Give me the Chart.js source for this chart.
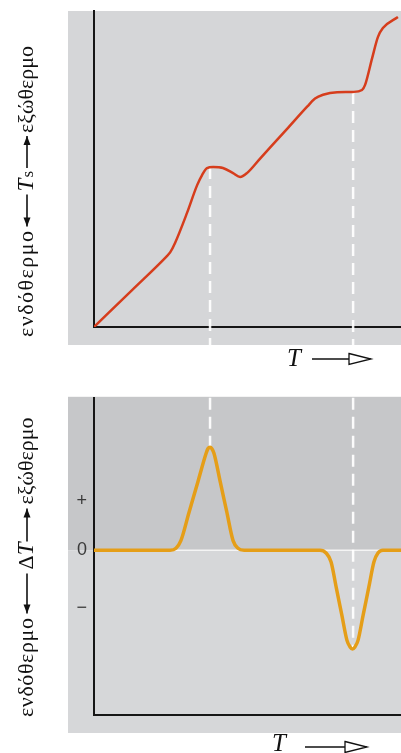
<!DOCTYPE html>
<html>
<head>
<meta charset="utf-8">
<script src="https://cdn.jsdelivr.net/npm/chart.js@4.4.1/dist/chart.umd.min.js"></script>
<style>
  html, body { margin: 0; padding: 0; background: #fff; }
  #wrap { position: relative; width: 401px; height: 753px; }
  canvas { position: absolute; left: 0; }
</style>
</head>
<body>
<div id="wrap">
  <canvas id="tsChart" width="401" height="380" style="top:0"></canvas>
  <canvas id="dtChart" width="401" height="373" style="top:380px"></canvas>
</div>
<script>
// temperature along the T axis (0..100, arbitrary units)
const tsTemps = [0, 12.4, 23.6, 24.8, 26.4, 30.3, 33.6, 35.2, 36.8, 38.8, 42.0, 45.3, 47.6, 49.8, 54.1, 62.9, 69.5,
                 72.0, 74.6, 79.2, 84.4, 87.3, 88.3, 90.6, 92.5, 94.1, 99.0];
// sample temperature Ts
const tsValues = [0, 11.7, 22.3, 23.6, 26.6, 36.1, 44.9, 48.1, 50.3, 50.6, 50.3, 48.7, 47.5, 48.7, 53.3, 62.7, 69.8,
                  72.3, 73.5, 74.3, 74.4, 75.0, 76.6, 85.1, 91.8, 94.6, 98.1];

const dtTemps = [0, 24.8, 26.7, 28.3, 30.9, 33.9, 36.5, 37.1, 37.8, 38.4, 39.1, 41.2, 43.2, 45.3, 46.9, 48.9,
                 73.6, 75.6, 77.2, 79.0, 80.7, 82.4, 83.4, 84.2, 85.0, 86.0, 87.7, 89.5, 91.2, 92.5, 94.1, 100];
// temperature difference ΔT
const dtValues = [0, 0, 0.12, 0.58, 2.26, 4.19, 5.87, 6.16, 6.25, 6.16, 5.87, 4.08, 2.37, 0.58, 0.12, 0,
                  0, -0.17, -0.70, -2.35, -3.91, -5.47, -5.87, -5.99, -5.87, -5.47, -3.91, -2.26, -0.70, -0.17, 0, 0];

// transitions (dashed lines)
const transitionTemps = [37.8, 84.4];
const tsAtTransition = [50.6, 74.4];
const dtAtTransition = [6.25, -5.99];

const dtTickValues = [-3.5, 0, 3];
const dtTickLabels = ['−', '0', '+'];

const SERIF = '"Liberation Serif", "DejaVu Serif", serif';

const toPts = (xs, ys) => xs.map((x, i) => ({ x: x, y: ys[i] }));

const panelPlugin = {
  id: 'panel',
  beforeDraw(chart, args, opts) {
    const { ctx, chartArea: a } = chart;
    const left = a.left - 26, right = chart.width;
    const top = a.top - (opts.topExtra || 0), bottom = a.bottom + 18;
    ctx.save();
    if (opts.split) {
      const y0 = chart.scales.y.getPixelForValue(0);
      ctx.fillStyle = opts.upper;
      ctx.fillRect(left, top, right - left, y0 - top);
      ctx.fillStyle = opts.lower;
      ctx.fillRect(left, y0, right - left, bottom - y0);
      ctx.strokeStyle = '#f4f4f4';
      ctx.lineWidth = 1.5;
      ctx.beginPath();
      ctx.moveTo(a.left, y0);
      ctx.lineTo(right, y0);
      ctx.stroke();
    } else {
      ctx.fillStyle = opts.color;
      ctx.fillRect(left, top, right - left, bottom - top);
    }
    ctx.restore();
  }
};

function arrowHead(ctx, x, y, dir) {
  ctx.beginPath();
  ctx.moveTo(x, y);
  ctx.lineTo(x - dir * 9, y - 3.5);
  ctx.lineTo(x - dir * 9, y + 3.5);
  ctx.closePath();
  ctx.fill();
}

const titlesPlugin = {
  id: 'titles',
  afterDraw(chart, args, opts) {
    const { ctx, chartArea: a } = chart;
    ctx.save();
    ctx.fillStyle = '#111';
    ctx.strokeStyle = '#111';
    ctx.textBaseline = 'alphabetic';

    // vertical label, reading bottom to top
    ctx.save();
    ctx.translate(opts.side.x, opts.side.startY);
    ctx.rotate(-Math.PI / 2);
    let x = 0;
    opts.side.parts.forEach(p => {
      if (p.arrow) {
        ctx.lineWidth = 1.6;
        ctx.beginPath();
        ctx.moveTo(x, -6);
        ctx.lineTo(x + p.len, -6);
        ctx.stroke();
        if (p.arrow === 'left') arrowHead(ctx, x, -6, -1);
        else arrowHead(ctx, x + p.len, -6, 1);
        x += p.len;
      } else {
        ctx.font = p.font;
        ctx.letterSpacing = (p.spacing || 0) + 'px';
        ctx.fillText(p.text, x, 0);
        x += ctx.measureText(p.text).width;
        ctx.letterSpacing = '0px';
      }
      x += p.gap || 0;
    });
    ctx.restore();

    // T ——▷ under the x axis
    const b = opts.bottom;
    const tx = a.left + b.dx, ty = a.bottom + b.dy;
    ctx.font = 'italic 25px ' + SERIF;
    ctx.fillText('T', tx, ty);
    const ay = ty - b.lift;
    ctx.lineWidth = 1.6;
    ctx.beginPath();
    ctx.moveTo(tx + b.lineStart, ay);
    ctx.lineTo(tx + b.lineEnd, ay);
    ctx.stroke();
    ctx.lineWidth = 1.3;
    ctx.fillStyle = '#fff';
    ctx.beginPath();
    ctx.moveTo(tx + b.lineEnd, ay - 5.5);
    ctx.lineTo(tx + b.triEnd, ay);
    ctx.lineTo(tx + b.lineEnd, ay + 5.5);
    ctx.closePath();
    ctx.fill();
    ctx.stroke();
    ctx.restore();
  }
};

const dashStyle = {
  borderColor: 'rgba(255,255,255,0.92)',
  borderWidth: 2.5,
  borderDash: [12, 7],
  pointRadius: 0,
  fill: false,
  clip: false,
  order: 1
};

const hiddenX = {
  type: 'linear', min: 0, max: 100,
  grid: { display: false },
  ticks: { display: false },
  border: { display: true, color: '#161616', width: 2 },
  afterFit: s => { s.height = 0; }
};

// ---- Ts vs T ----
new Chart(document.getElementById('tsChart'), {
  type: 'line',
  data: {
    datasets: [
      {
        data: toPts(tsTemps, tsValues),
        borderColor: '#d63d1c',
        borderWidth: 2.5,
        pointRadius: 0,
        cubicInterpolationMode: 'monotone',
        fill: false,
        order: 0
      },
      Object.assign({ data: [{ x: transitionTemps[0], y: tsAtTransition[0] }, { x: transitionTemps[0], y: -5.7 }] }, dashStyle),
      Object.assign({ data: [{ x: transitionTemps[1], y: tsAtTransition[1] }, { x: transitionTemps[1], y: -5.7 }] }, dashStyle)
    ]
  },
  options: {
    responsive: false,
    animation: false,
    layout: { padding: { left: 94, top: 11, right: 0, bottom: 53 } },
    scales: {
      x: hiddenX,
      y: {
        min: 0, max: 100,
        grid: { display: false },
        ticks: { display: false },
        border: { display: true, color: '#161616', width: 2 },
        afterFit: s => { s.width = 0; }
      }
    },
    plugins: {
      legend: { display: false },
      tooltip: { enabled: false },
      panel: { color: '#d5d6d8' },
      titles: {
        side: {
          x: 33, startY: 337,
          parts: [
            { text: 'ενδόθερμο', font: '22px ' + SERIF, spacing: 1.5, gap: 3 },
            { arrow: 'left', len: 32, gap: 3 },
            { text: 'T', font: 'italic 23px ' + SERIF, gap: 1 },
            { text: 's', font: '17px ' + SERIF, gap: 3 },
            { arrow: 'right', len: 32, gap: 3 },
            { text: 'εξώθερμο', font: '22px ' + SERIF }
          ]
        },
        bottom: { dx: 193, dy: 39, lift: 7, lineStart: 25, lineEnd: 62, triEnd: 84 }
      }
    }
  },
  plugins: [panelPlugin, titlesPlugin]
});

// ---- ΔT vs T ----
new Chart(document.getElementById('dtChart'), {
  type: 'line',
  data: {
    datasets: [
      {
        data: toPts(dtTemps, dtValues),
        borderColor: '#e59e18',
        borderWidth: 3.5,
        pointRadius: 0,
        cubicInterpolationMode: 'monotone',
        fill: false,
        order: 0
      },
      Object.assign({ data: [{ x: transitionTemps[0], y: 9.25 }, { x: transitionTemps[0], y: dtAtTransition[0] }] }, dashStyle),
      Object.assign({ data: [{ x: transitionTemps[1], y: 9.25 }, { x: transitionTemps[1], y: dtAtTransition[1] }] }, dashStyle)
    ]
  },
  options: {
    responsive: false,
    animation: false,
    layout: { padding: { left: 76, top: 4, right: 0, bottom: 38 } },
    scales: {
      x: hiddenX,
      y: {
        min: -10, max: 9.25,
        afterBuildTicks: s => { s.ticks = dtTickValues.map(v => ({ value: v })); },
        grid: { display: false, drawTicks: false },
        ticks: {
          padding: 7,
          color: '#3a3a3a',
          font: { family: '"Liberation Sans", Arial, sans-serif', size: 18 },
          callback: v => dtTickLabels[dtTickValues.indexOf(v)]
        },
        border: { display: true, color: '#161616', width: 2 },
        afterFit: s => { s.width = 18; }
      }
    },
    plugins: {
      legend: { display: false },
      tooltip: { enabled: false },
      panel: { split: true, upper: '#c6c7c9', lower: '#d6d7d9', topExtra: 1 },
      titles: {
        side: {
          x: 33, startY: 337,
          parts: [
            { text: 'ενδόθερμο', font: '22px ' + SERIF, spacing: 0.6, gap: 4 },
            { arrow: 'left', len: 40, gap: 4 },
            { text: 'Δ', font: '22px ' + SERIF, gap: 0 },
            { text: 'T', font: 'italic 23px ' + SERIF, gap: 1 },
            { arrow: 'right', len: 33, gap: 4 },
            { text: 'εξώθερμο', font: '22px ' + SERIF }
          ]
        },
        bottom: { dx: 178, dy: 36, lift: 4, lineStart: 33, lineEnd: 73, triEnd: 95 }
      }
    }
  },
  plugins: [panelPlugin, titlesPlugin]
});
</script>
</body>
</html>
